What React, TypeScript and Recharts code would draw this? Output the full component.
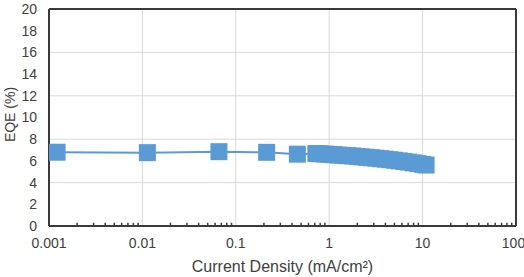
import { LineChart, Line, XAxis, YAxis, CartesianGrid, ReferenceLine } from 'recharts'

// current density (mA/cm2) and EQE (%)
const currentDensity = [
  0.00122, 0.0113, 0.066, 0.214, 0.456,
  0.72, 0.8, 0.9, 1.0, 1.12, 1.26, 1.41, 1.58, 1.78, 2.0, 2.24, 2.51, 2.82,
  3.16, 3.55, 3.98, 4.47, 5.01, 5.62, 6.31, 7.08, 7.94, 8.91, 10.0, 10.9,
]
const eqe = [
  6.8, 6.76, 6.85, 6.79, 6.62,
  6.68, 6.66, 6.63, 6.6, 6.57, 6.54, 6.51, 6.48, 6.45, 6.41, 6.37, 6.33, 6.29,
  6.25, 6.2, 6.16, 6.11, 6.06, 6.0, 5.95, 5.89, 5.82, 5.75, 5.68, 5.62,
]

const xTicks = [0.001, 0.01, 0.1, 1, 10, 100]
const xMinorTicks = [
  0.002, 0.003, 0.004, 0.005, 0.006, 0.007, 0.008, 0.009,
  0.02, 0.03, 0.04, 0.05, 0.06, 0.07, 0.08, 0.09,
  0.2, 0.3, 0.4, 0.5, 0.6, 0.7, 0.8, 0.9,
  2, 3, 4, 5, 6, 7, 8, 9,
  20, 30, 40, 50, 60, 70, 80, 90,
]
const yTicks = [0, 2, 4, 6, 8, 10, 12, 14, 16, 18, 20]

const data = currentDensity.map((j, i) => ({ j, eqe: eqe[i] }))

const BLUE = '#5B9BD5'
const DARK = '#3a3a3a'
const TEXT = '#404040'
const FONT = '"Liberation Sans", Arial, sans-serif'

const SquareDot = (props: any) => {
  const { cx, cy, index } = props
  if (cx == null || cy == null) return <g key={index} />
  return <rect key={index} x={cx - 8.5} y={cy - 8.5} width={17} height={17} fill={BLUE} />
}

export default function App() {
  return (
    <div style={{ position: 'absolute', left: 0, top: 0, width: 524, height: 277, background: '#fff' }}>
      <LineChart width={524} height={277} data={data} margin={{ top: 9, right: 8, left: 0, bottom: 0 }}>
        <CartesianGrid stroke="#d9d9d9" />
        <XAxis
          dataKey="j"
          type="number"
          scale="log"
          domain={[0.001, 100]}
          allowDataOverflow
          ticks={xTicks}
          height={51}
          axisLine={{ stroke: DARK, strokeWidth: 2 }}
          tickLine={false}
          tickSize={6}
          tickMargin={6}
          tick={{ fontSize: 14, fill: TEXT, fontFamily: FONT }}
          tickFormatter={(v: number) => String(v)}
          label={{
            value: 'Current Density (mA/cm²)',
            position: 'insideBottom',
            offset: 5,
            style: { fontSize: 16, fill: TEXT, fontFamily: FONT },
          }}
        />
        <YAxis
          type="number"
          domain={[0, 20]}
          ticks={yTicks}
          width={49}
          axisLine={{ stroke: DARK, strokeWidth: 2 }}
          tickLine={false}
          tickSize={6}
          tickMargin={6}
          tick={{ fontSize: 14, fill: TEXT, fontFamily: FONT }}
          label={{
            content: ({ viewBox }: any) => {
              const cy = viewBox.y + viewBox.height / 2 - 3
              return (
                <text
                  x={10}
                  y={cy}
                  transform={`rotate(-90 10 ${cy})`}
                  textAnchor="middle"
                  dominantBaseline="central"
                  style={{ fontSize: 14, fill: TEXT, fontFamily: FONT }}
                >
                  EQE (%)
                </text>
              )
            },
          }}
        />
        {xMinorTicks.map((t) => (
          <ReferenceLine
            key={t}
            segment={[{ x: t, y: 0 }, { x: t, y: 0.3 }]}
            stroke={DARK}
            strokeWidth={1.5}
          />
        ))}
        <ReferenceLine y={20} stroke={DARK} strokeWidth={2} />
        <ReferenceLine x={100} stroke={DARK} strokeWidth={2} />
        <Line
          dataKey="eqe"
          stroke={BLUE}
          strokeWidth={2}
          dot={SquareDot}
          activeDot={false}
          isAnimationActive={false}
        />
      </LineChart>
    </div>
  )
}
